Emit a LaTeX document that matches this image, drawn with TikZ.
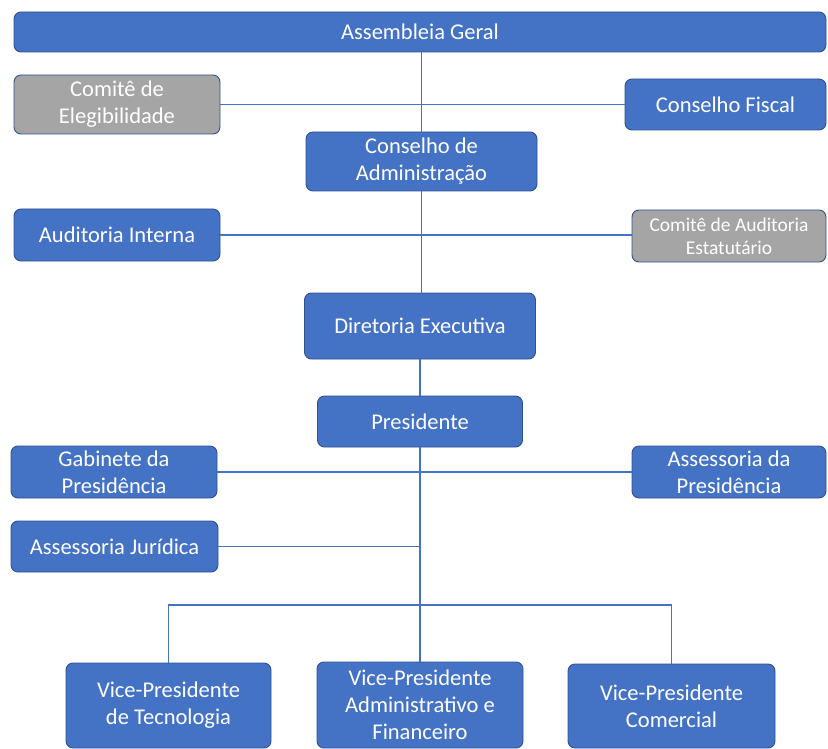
\documentclass[tikz,border=0pt]{standalone}
\usepackage{fontspec}
\setmainfont{Carlito}
\definecolor{boxblue}{HTML}{4472C4}
\definecolor{boxedge}{HTML}{2F528F}
\definecolor{boxgray}{HTML}{A5A5A5}
\definecolor{linkblue}{HTML}{4472C4}
\begin{document}
\begin{tikzpicture}[x=1pt,y=-1pt,
  box/.style={draw=boxedge, line width=0.9pt, fill=boxblue, rounded corners=7pt,
    text=white, align=center, inner sep=1pt, font=\fontsize{22.5}{27}\selectfont},
  graybox/.style={box, fill=boxgray},
  link/.style={draw=linkblue, line width=1.4pt}]
\useasboundingbox (0,0) rectangle (828,749);
\node[box, minimum width=812, minimum height=40] (AG) at (420,32) {Assembleia Geral};
\node[graybox, minimum width=206, minimum height=59] (CE) at (117,104.5) {Comitê de\\Elegibilidade};
\node[box, minimum width=201, minimum height=51] (CF) at (725.5,104.5) {Conselho Fiscal};
\node[box, minimum width=231, minimum height=59] (CA) at (421.5,161.5) {Conselho de\\Administração};
\node[box, minimum width=206, minimum height=52] (AI) at (117,235) {Auditoria Interna};
\node[graybox, minimum width=194, minimum height=52, font=\fontsize{19.5}{23}\selectfont] (CAE) at (729,236) {Comitê de Auditoria\\Estatutário};
\node[box, minimum width=231, minimum height=66] (DE) at (420,326) {Diretoria Executiva};
\node[box, minimum width=205, minimum height=51] (PR) at (420,421.5) {Presidente};
\node[box, minimum width=206, minimum height=52] (GP) at (114,472) {Gabinete da\\Presidência};
\node[box, minimum width=194, minimum height=52] (AP) at (729,472) {Assessoria da\\Presidência};
\node[box, minimum width=207, minimum height=51] (AJ) at (114.5,546.5) {Assessoria Jurídica};
\node[box, minimum width=205, minimum height=85] (V1) at (168.5,705.5) {Vice-Presidente\\de Tecnologia};
\node[box, minimum width=206, minimum height=86] (V2) at (420,705) {Vice-Presidente\\Administrativo e\\Financeiro};
\node[box, minimum width=207, minimum height=84] (V3) at (671.5,706) {Vice-Presidente\\Comercial};
\coordinate (bus) at (420,605);
\draw[link] (CA.north |- AG.south) -- (CA.north);
\draw[link] (CE.east) -- (CF.west);
\draw[link] (CA.south) -- (CA.south |- DE.north);
\draw[link] (AI.east) -- (AI.east -| CAE.west);
\draw[link] (DE.south) -- (PR.north);
\draw[link] (GP.east) -- (AP.west);
\draw[link] (AJ.east) -- (AJ.east -| PR.south);
\draw[link] (PR.south) -- (V2.north);
\draw[link] (V1.north) |- (bus) -| (V3.north);
\end{tikzpicture}
\end{document}
